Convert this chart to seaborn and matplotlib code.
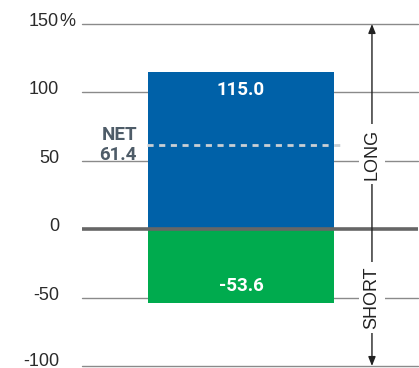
import matplotlib
matplotlib.use("Agg")
import matplotlib.pyplot as plt
import matplotlib.transforms as mtransforms
import seaborn as sns
import pandas as pd

# Exposure values (% of portfolio)
positions = ["Long", "Short"]
exposure = [115.0, -53.6]
net_exposure = 61.4
tick_values = [150, 100, 50, 0, -50, -100]
tick_labels = ["150", "100", "50", "0", "-50", "-100"]

BLUE = "#0061a8"
GREEN = "#00ab4e"
GRID = "#8a8a8a"
ZERO = "#666666"
NET_TXT = "#4e5c68"
NET_LINE = "#c9cfd4"

sns.set_theme(style="white")
plt.rcParams["font.family"] = ["Liberation Sans", "DejaVu Sans"]

fig = plt.figure(figsize=(4.19, 3.68), dpi=100)
W, H = 419, 368
ax = fig.add_axes([82 / W, (H - 366) / H, 336 / W, 342 / H])

df = pd.DataFrame({"group": ["Exposure", "Exposure"], "position": positions,
                   "value": exposure})
sns.barplot(data=df, x="group", y="value", hue="position",
            palette={"Long": BLUE, "Short": GREEN}, dodge=False,
            width=0.8, saturation=1, legend=False, ax=ax, zorder=3)
for p in ax.patches:
    p.set_edgecolor("none")

ax.set_xlim(-0.684, 0.761)
ax.set_ylim(-100, 150)
ax.set_xlabel("")
ax.set_ylabel("")
ax.set_xticks([])
for s in ax.spines.values():
    s.set_visible(False)

# gridlines
for v in tick_values:
    if v == 0:
        continue
    ax.axhline(v, color=GRID, lw=1.0, zorder=1, clip_on=False)
ax.axhline(0, color=ZERO, lw=2.6, zorder=4)

# y tick labels, raised slightly above their lines
ax.set_yticks(tick_values)
ax.set_yticklabels(tick_labels)
ax.tick_params(axis="y", length=0, pad=16.5, labelsize=13, labelcolor="#2b2b2b")
for lbl in ax.get_yticklabels():
    rise = 6.0 if lbl.get_text() == "-100" else 4.5
    offset = mtransforms.ScaledTranslation(0, rise / 100, fig.dpi_scale_trans)
    lbl.set_transform(lbl.get_transform() + offset)
ax.annotate("%", xy=(0, 150), xycoords=("axes fraction", "data"),
            xytext=(-22.5, 4.5), textcoords="offset pixels", ha="left",
            va="center_baseline", fontsize=13, color="#2b2b2b",
            annotation_clip=False)

# value labels inside bars
for v, y in zip(exposure, [101.8, -41.6]):
    ax.text(0, y, f"{v:.1f}", ha="center", va="center", color="white",
            fontsize=13.5, fontweight="bold", family=["Roboto", "DejaVu Sans"],
            zorder=5)

# net exposure marker
ax.plot([-0.404, 0.426], [net_exposure, net_exposure], color=NET_LINE,
        lw=2.0, ls=(0, (2.2, 2.0)), zorder=5)
ax.text(-0.447, net_exposure, f"NET\n{net_exposure:.1f}", ha="right",
        va="center", color=NET_TXT, fontsize=13.5, fontweight="bold",
        family=["Roboto", "DejaVu Sans"], linespacing=1.15, zorder=5)

# long / short span arrow
ax.annotate("", xy=(0.563, 150), xytext=(0.563, -100),
            arrowprops=dict(arrowstyle="<|-|>,head_length=0.45,head_width=0.18",
                            color="#222222", lw=1.0, shrinkA=0, shrinkB=0),
            zorder=6, annotation_clip=False)
for label, y in [("LONG", 55.0), ("SHORT", -50.0)]:
    ax.text(0.563, y, label, rotation=90, ha="center", va="center",
            fontsize=13, color="#222222", zorder=7,
            bbox=dict(boxstyle="square,pad=0.25", fc="white", ec="none"))

fig.savefig("out.png", dpi=100)
